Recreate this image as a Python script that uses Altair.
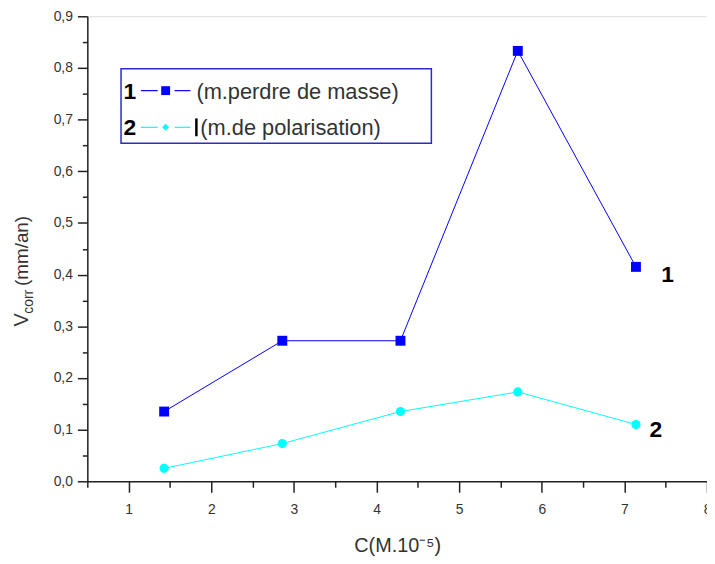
import altair as alt
import pandas as pd

# ---------------- data ----------------
c_vals = [1.43, 2.86, 4.29, 5.71, 7.14]
v_masse = [0.135, 0.272, 0.272, 0.833, 0.415]
v_polar = [0.025, 0.073, 0.135, 0.173, 0.110]
series_ids = ["1", "2"]
series_names = ["(m.perdre de masse)", "(m.de polarisation)"]
series_colors = ["#0000FF", "#00FFFF"]
x_tick_values = [0.5, 1, 1.5, 2, 2.5, 3, 3.5, 4, 4.5, 5, 5.5, 6, 6.5, 7, 7.5, 8]
y_tick_values = [0, 0.05, 0.1, 0.15, 0.2, 0.25, 0.3, 0.35, 0.4, 0.45,
                 0.5, 0.55, 0.6, 0.65, 0.7, 0.75, 0.8, 0.85, 0.9]
x_title = "C(M.10\u207b\u2075)"
y_title_parts = ["V", "corr", "(mm/an)"]

W, H = 625, 469
FONT = "Liberation Sans"
AX = "#222222"
TXT = "#333333"

rows = []
for sid, vals in zip(series_ids, [v_masse, v_polar]):
    for c, v in zip(c_vals, vals):
        rows.append({"C": c, "V": v, "serie": sid})
df = pd.DataFrame(rows)

x_scale = alt.Scale(domain=[0.5, 8], nice=False, zero=False)
y_scale = alt.Scale(domain=[0, 0.9], nice=False, zero=False)
color_scale = alt.Scale(domain=series_ids, range=series_colors)

x_axis = alt.Axis(
    values=x_tick_values,
    labelExpr="datum.value % 1 == 0 ? format(datum.value, 'd') : ''",
    tickSize={"condition": {"test": "datum.value % 1 == 0", "value": 11}, "value": 6},
    grid=False, domainColor=AX, domainWidth=1.5, tickColor=AX, tickWidth=1.5,
    labelFont=FONT, labelFontSize=14, labelColor=TXT, labelPadding=10,
    labelOverlap=False, labelFlush=False,
    title=x_title, titleFont=FONT, titleFontSize=20, titleFontWeight="normal",
    titleColor=TXT, titlePadding=20,
)
y_axis = alt.Axis(
    values=y_tick_values,
    labelExpr="round(datum.value * 20) % 2 == 0 ? replace(format(datum.value, '.1f'), '.', ',') : ''",
    tickSize={"condition": {"test": "round(datum.value * 20) % 2 == 0", "value": 10}, "value": 5},
    grid=False, domainColor=AX, domainWidth=1.5, tickColor=AX, tickWidth=1.5,
    labelFont=FONT, labelFontSize=14, labelColor=TXT, labelPadding=5,
    labelOverlap=False, labelFlush=False,
    title=None,
)

base = alt.Chart(df).encode(
    x=alt.X("C:Q", scale=x_scale, axis=x_axis),
    y=alt.Y("V:Q", scale=y_scale, axis=y_axis),
)

lines = base.mark_line(strokeWidth=1).encode(
    color=alt.Color("serie:N", scale=color_scale, legend=None)
)
pts1 = base.transform_filter(alt.datum.serie == "1").mark_point(
    shape="square", filled=True, size=100, opacity=1, color=series_colors[0]
)
pts2 = base.transform_filter(alt.datum.serie == "2").mark_point(
    shape="circle", filled=True, size=85, opacity=1, color=series_colors[1]
)
end1 = base.transform_filter(
    (alt.datum.serie == "1") & (alt.datum.C == c_vals[-1])
).mark_text(font=FONT, fontSize=23, fontWeight="bold", color="#000000",
            dx=32, dy=8, align="center", baseline="middle").encode(text="serie:N")
end2 = base.transform_filter(
    (alt.datum.serie == "2") & (alt.datum.C == c_vals[-1])
).mark_text(font=FONT, fontSize=23, fontWeight="bold", color="#000000",
            dx=20, dy=6, align="center", baseline="middle").encode(text="serie:N")

one = pd.DataFrame({"k": [0]})

# legend box
box = alt.Chart(one).mark_rect(fill="white", stroke="#2a2ad0", strokeWidth=1.5).encode(
    x=alt.value(34), x2=alt.value(347), y=alt.value(53), y2=alt.value(128)
)

legend_layers = [box]
row_y = [75, 112]
marker_shapes = ["square", "diamond"]
marker_sizes = [80, 50]
text_x = [110, 114]
for i in range(2):
    yy = row_y[i]
    legend_layers.append(
        alt.Chart(pd.DataFrame({"t": [series_ids[i]]})).mark_text(
            font=FONT, fontSize=23, fontWeight="bold", color="#000000",
            align="center", baseline="middle").encode(
            x=alt.value(43), y=alt.value(yy + 1), text="t:N")
    )
    legend_layers.append(
        alt.Chart(one).mark_rule(color=series_colors[i], strokeWidth=1.2).encode(
            x=alt.value(54), x2=alt.value(71), y=alt.value(yy))
    )
    legend_layers.append(
        alt.Chart(one).mark_rule(color=series_colors[i], strokeWidth=1.2).encode(
            x=alt.value(88), x2=alt.value(104), y=alt.value(yy))
    )
    legend_layers.append(
        alt.Chart(one).mark_point(shape=marker_shapes[i], filled=True, opacity=1,
                                  size=marker_sizes[i], color=series_colors[i]).encode(
            x=alt.value(79), y=alt.value(yy))
    )
    legend_layers.append(
        alt.Chart(pd.DataFrame({"t": [series_names[i]]})).mark_text(
            font=FONT, fontSize=22, color=TXT, align="left", baseline="middle").encode(
            x=alt.value(text_x[i]), y=alt.value(yy + 1), text="t:N")
    )
# text cursor artefact in legend
legend_layers.append(
    alt.Chart(one).mark_rule(color="#000000", strokeWidth=2.5).encode(
        x=alt.value(110), y=alt.value(103), y2=alt.value(121))
)

# y title (V with subscript corr)
ytitle = [
    alt.Chart(pd.DataFrame({"t": [y_title_parts[0]]})).mark_text(
        font=FONT, fontSize=20, color=TXT, angle=270, align="left", baseline="alphabetic").encode(
        x=alt.value(-60), y=alt.value(313), text="t:N"),
    alt.Chart(pd.DataFrame({"t": [y_title_parts[1]]})).mark_text(
        font=FONT, fontSize=14, color=TXT, angle=270, align="left", baseline="alphabetic").encode(
        x=alt.value(-55), y=alt.value(300), text="t:N"),
    alt.Chart(pd.DataFrame({"t": [y_title_parts[2]]})).mark_text(
        font=FONT, fontSize=19, color=TXT, angle=270, align="left", baseline="alphabetic").encode(
        x=alt.value(-60), y=alt.value(272), text="t:N"),
]

chart = alt.layer(
    lines, pts1, pts2, end1, end2, *legend_layers, *ytitle
).properties(
    width=W, height=H,
    autosize=alt.AutoSizeParams(type="none"),
    padding={"left": 80, "top": 6, "right": 0, "bottom": 73},
).configure_view(stroke=AX, strokeWidth=1.5).configure(background="white")

chart.save("out.html", embed_options={"renderer": "svg", "actions": False})
